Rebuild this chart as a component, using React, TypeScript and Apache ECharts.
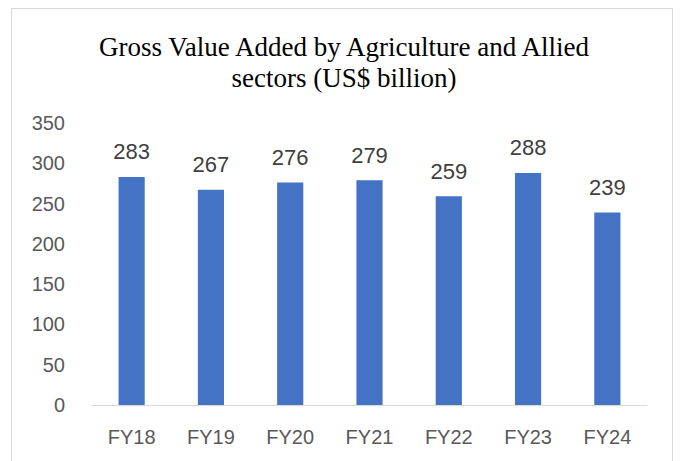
import React, { useEffect, useRef } from "react";
import * as echarts from "echarts";

const categories = ["FY18", "FY19", "FY20", "FY21", "FY22", "FY23", "FY24"];
const values = [283, 267, 276, 279, 259, 288, 239];
const titleText = "Gross Value Added by Agriculture and Allied\nsectors (US$ billion)";

export default function App() {
  const ref = useRef<HTMLDivElement>(null);
  useEffect(() => {
    const chart = echarts.init(ref.current!, undefined, { renderer: "svg" });
    chart.setOption({
      animation: false,
      backgroundColor: "#ffffff",
      title: {
        text: titleText,
        left: 344,
        textAlign: "center",
        top: 31,
        padding: 0,
        textStyle: {
          fontFamily: "Liberation Serif",
          fontWeight: "normal",
          fontSize: 27,
          lineHeight: 31,
          color: "#000000",
        },
      },
      graphic: [
        {
          type: "rect",
          shape: { x: 11.5, y: 8.5, width: 661, height: 470 },
          style: { fill: "none", stroke: "#d9d9d9", lineWidth: 1 },
          silent: true,
        },
      ],
      grid: { left: 92, right: 37, top: 123, bottom: 56 },
      xAxis: {
        type: "category",
        data: categories,
        axisLine: { show: true, lineStyle: { color: "#d9d9d9", width: 1 } },
        axisTick: { show: false },
        axisLabel: {
          margin: 22,
          fontFamily: "Liberation Sans",
          fontSize: 20,
          color: "#595959",
        },
      },
      yAxis: {
        type: "value",
        min: 0,
        max: 350,
        interval: 50,
        splitLine: { show: false },
        axisLine: { show: false },
        axisTick: { show: false },
        axisLabel: {
          margin: 27,
          fontFamily: "Liberation Sans",
          fontSize: 20,
          color: "#595959",
        },
      },
      series: [
        {
          type: "bar",
          data: values,
          barWidth: "33%",
          itemStyle: { color: "#4472c4" },
          label: {
            show: true,
            position: "top",
            distance: 14,
            fontFamily: "Liberation Sans",
            fontSize: 22,
            color: "#404040",
          },
        },
      ],
    });
    return () => chart.dispose();
  }, []);
  return (
    <div
      ref={ref}
      style={{ position: "fixed", left: 0, top: 0, width: 684, height: 461 }}
    />
  );
}
